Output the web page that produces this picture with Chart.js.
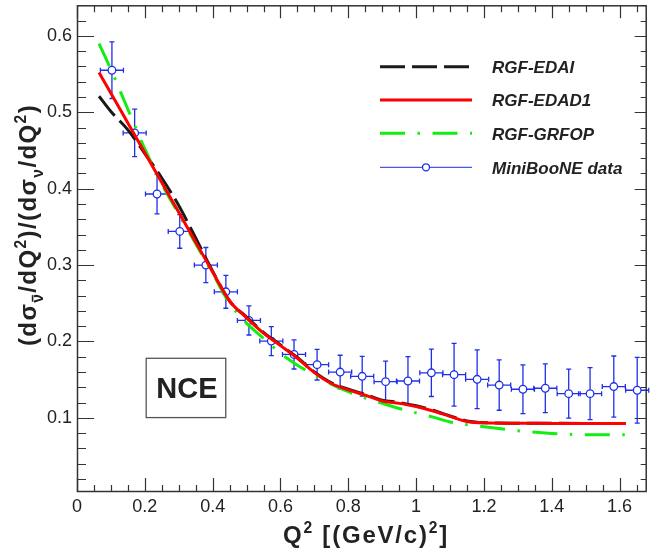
<!DOCTYPE html>
<html>
<head>
<meta charset="utf-8">
<script src="https://cdn.jsdelivr.net/npm/chart.js@4.4.1/dist/chart.umd.min.js"></script>
<style>
  html, body { margin: 0; padding: 0; background: #fff; }
  canvas { display: block; }
</style>
</head>
<body>
<canvas id="nceChart" width="652" height="556"></canvas>
<script>
// MiniBooNE NCE ratio
const qsq = [0.103, 0.170, 0.236, 0.303, 0.380, 0.439, 0.507, 0.573, 0.640, 0.708, 0.776, 0.841,
             0.910, 0.976, 1.045, 1.112, 1.180, 1.245, 1.315, 1.381, 1.450, 1.513, 1.583, 1.652];
const ratio = [0.555, 0.473, 0.393, 0.344, 0.300, 0.265, 0.2275, 0.2005, 0.183, 0.1696, 0.160, 0.1544,
               0.1474, 0.1483, 0.159, 0.1565, 0.1505, 0.143, 0.1375, 0.1388, 0.1317, 0.1317, 0.141, 0.1362];
const ratioErr = [0.037, 0.031, 0.026, 0.022, 0.023, 0.0215, 0.019, 0.019, 0.019, 0.020, 0.022, 0.026,
                  0.027, 0.032, 0.031, 0.041, 0.0385, 0.033, 0.032, 0.032, 0.032, 0.034, 0.040, 0.043];
const qsqErr = [0.034, 0.034, 0.034, 0.034, 0.034, 0.034, 0.034, 0.034, 0.034, 0.034, 0.034, 0.034,
                0.034, 0.034, 0.034, 0.034, 0.034, 0.034, 0.034, 0.034, 0.034, 0.034, 0.034, 0.034];

// model curves
const curveQ = [0.065, 0.10, 0.15, 0.20, 0.25, 0.30, 0.35, 0.40, 0.45, 0.50, 0.55, 0.60, 0.65, 0.70,
                0.75, 0.80, 0.85, 0.90, 0.95, 1.00, 1.05, 1.10, 1.15, 1.20, 1.30, 1.40, 1.50, 1.618];
const edai = [0.521, 0.501, 0.477, 0.446, 0.414, 0.378, 0.3354, 0.292, 0.253, 0.232, 0.212, 0.1955, 0.179, 0.160,
              0.1458, 0.1375, 0.1307, 0.1232, 0.1202, 0.1158, 0.110, 0.1025, 0.096, 0.0937, 0.0931, 0.0929, 0.0927, 0.0926];
const edad1 = [0.552, 0.525, 0.486, 0.447, 0.408, 0.369, 0.330, 0.291, 0.253, 0.231, 0.211, 0.1946, 0.178, 0.1593,
               0.145, 0.1366, 0.1297, 0.1222, 0.119, 0.1148, 0.109, 0.102, 0.0953, 0.0935, 0.0930, 0.0928, 0.0926, 0.0925];
const grfop = [0.590, 0.556, 0.504, 0.452, 0.406, 0.367, 0.328, 0.289, 0.250, 0.224, 0.204, 0.1845, 0.169, 0.156,
               0.144, 0.1343, 0.126, 0.119, 0.1123, 0.1065, 0.101, 0.0947, 0.091, 0.0885, 0.0832, 0.0797, 0.078, 0.078];

const xTicks = [0, 0.2, 0.4, 0.6, 0.8, 1.0, 1.2, 1.4, 1.6];
const yTicks = [0.1, 0.2, 0.3, 0.4, 0.5, 0.6];

const BLUE = '#1f2fe8';
const TXT = '#222';

const pts = (xs, ys) => xs.map((x, i) => ({ x: x, y: ys[i] }));

// draws bold text with sub/superscripts, centred on cx
function drawRich(ctx, parts, cx, by, size, spacing) {
  let w = 0;
  const items = [];
  parts.forEach(p => {
    const s = p.k === 'n' ? size : size * 0.65;
    ctx.font = 'bold ' + s + 'px "Liberation Sans", Arial, sans-serif';
    ctx.letterSpacing = spacing + 'px';
    const tw = ctx.measureText(p.t).width;
    items.push({ t: p.t, k: p.k, bar: p.bar, s: s, x: w, w: tw });
    w += tw;
  });
  const x0 = cx - w / 2;
  ctx.fillStyle = TXT;
  ctx.textBaseline = 'alphabetic';
  ctx.textAlign = 'left';
  items.forEach(it => {
    ctx.font = 'bold ' + it.s + 'px "Liberation Sans", Arial, sans-serif';
    ctx.letterSpacing = spacing + 'px';
    const dy = it.k === 'sub' ? size * 0.30 : it.k === 'sup' ? -size * 0.42 : 0;
    ctx.fillText(it.t, x0 + it.x, by + dy);
    if (it.bar) {
      ctx.strokeStyle = TXT;
      ctx.lineWidth = 1.6;
      ctx.beginPath();
      ctx.moveTo(x0 + it.x + 1, by + dy - it.s * 0.68);
      ctx.lineTo(x0 + it.x + it.w - spacing - 1, by + dy - it.s * 0.68);
      ctx.stroke();
    }
  });
  ctx.letterSpacing = '0px';
}

const errorBars = {
  id: 'errorBars',
  beforeDatasetsDraw(chart) {
    const { ctx, scales: { x, y } } = chart;
    const r = 3.8;
    const cap = 2.5;
    ctx.save();
    ctx.strokeStyle = BLUE;
    ctx.lineWidth = 1.3;
    qsq.forEach((q, i) => {
      const px = x.getPixelForValue(q);
      const py = y.getPixelForValue(ratio[i]);
      const top = y.getPixelForValue(ratio[i] + ratioErr[i]);
      const bot = y.getPixelForValue(ratio[i] - ratioErr[i]);
      const lft = x.getPixelForValue(q - qsqErr[i]);
      const rgt = x.getPixelForValue(q + qsqErr[i]);
      ctx.beginPath();
      ctx.moveTo(px, top); ctx.lineTo(px, py - r);
      ctx.moveTo(px, py + r); ctx.lineTo(px, bot);
      ctx.moveTo(lft, py); ctx.lineTo(px - r, py);
      ctx.moveTo(px + r, py); ctx.lineTo(rgt, py);
      ctx.moveTo(px - cap, top); ctx.lineTo(px + cap, top);
      ctx.moveTo(px - cap, bot); ctx.lineTo(px + cap, bot);
      ctx.moveTo(lft, py - cap); ctx.lineTo(lft, py + cap);
      ctx.moveTo(rgt, py - cap); ctx.lineTo(rgt, py + cap);
      ctx.stroke();
    });
    ctx.restore();
  }
};

const frameAndText = {
  id: 'frameAndText',
  afterDraw(chart) {
    const { ctx, chartArea: a, scales: { x, y } } = chart;
    ctx.save();

    // frame with inward ticks on all four sides
    ctx.strokeStyle = '#333';
    ctx.lineWidth = 1.5;
    ctx.strokeRect(a.left + 0.5, a.top + 0.5, a.right - a.left - 1, a.bottom - a.top - 1);
    ctx.lineWidth = 1.2;
    ctx.beginPath();
    for (let v = 0; v <= x.max + 1e-9; v += 0.05) {
      const px = Math.round(x.getPixelForValue(v)) + 0.5;
      const major = Math.abs(v / 0.2 - Math.round(v / 0.2)) < 1e-6;
      ctx.moveTo(px, a.bottom); ctx.lineTo(px, a.bottom - (major ? 14 : 7));
      ctx.moveTo(px, a.top); ctx.lineTo(px, a.top + (major ? 13 : 7));
    }
    for (let v = 0.02; v <= y.max + 1e-9; v += 0.02) {
      const py = Math.round(y.getPixelForValue(v)) + 0.5;
      const major = Math.abs(v / 0.1 - Math.round(v / 0.1)) < 1e-6;
      ctx.moveTo(a.left, py); ctx.lineTo(a.left + (major ? 17 : 9), py);
      ctx.moveTo(a.right, py); ctx.lineTo(a.right - (major ? 12 : 6), py);
    }
    ctx.stroke();

    // NCE label box
    const bx0 = x.getPixelForValue(0.204), bx1 = x.getPixelForValue(0.4387);
    const by0 = y.getPixelForValue(0.178), by1 = y.getPixelForValue(0.1004);
    ctx.strokeStyle = '#555';
    ctx.lineWidth = 1.3;
    ctx.strokeRect(bx0, by0, bx1 - bx0, by1 - by0);
    ctx.fillStyle = TXT;
    ctx.font = 'bold 29px "Liberation Sans", Arial, sans-serif';
    ctx.textAlign = 'center';
    ctx.textBaseline = 'alphabetic';
    ctx.fillText('NCE', (bx0 + bx1) / 2 + 1, (by0 + by1) / 2 + 10.5);

    // legend
    const rows = [
      { ds: 2, y: 66.7 },
      { ds: 0, y: 100 },
      { ds: 1, y: 133.3 },
      { ds: 3, y: 167.3 }
    ];
    const lx0 = 380, lx1 = 472;
    rows.forEach(row => {
      const d = chart.data.datasets[row.ds];
      ctx.save();
      if (row.ds === 3) {
        ctx.strokeStyle = BLUE;
        ctx.lineWidth = 1;
        ctx.beginPath();
        ctx.moveTo(lx0, row.y); ctx.lineTo(lx1, row.y);
        ctx.stroke();
        ctx.fillStyle = '#fff';
        ctx.lineWidth = 1.3;
        ctx.beginPath();
        ctx.arc((lx0 + lx1) / 2, row.y, 3.5, 0, Math.PI * 2);
        ctx.fill();
        ctx.stroke();
      } else {
        ctx.strokeStyle = d.borderColor;
        ctx.lineWidth = d.borderWidth;
        ctx.setLineDash(d.borderDash || []);
        ctx.beginPath();
        ctx.moveTo(lx0, row.y); ctx.lineTo(lx1, row.y);
        ctx.stroke();
      }
      ctx.restore();
      ctx.fillStyle = TXT;
      ctx.font = 'italic bold 17px "Liberation Sans", Arial, sans-serif';
      ctx.textAlign = 'left';
      ctx.fillText(d.label, 492, row.y + 6.3);
    });

    // x axis title
    drawRich(ctx, [
      { t: 'Q', k: 'n' }, { t: '2', k: 'sup' }, { t: ' [(GeV/c)', k: 'n' }, { t: '2', k: 'sup' }, { t: ']', k: 'n' }
    ], 366, 543, 24, 1.8);

    // y axis title, rotated
    ctx.save();
    ctx.translate(36, 225);
    ctx.rotate(-Math.PI / 2);
    drawRich(ctx, [
      { t: '(d\u03c3', k: 'n' }, { t: '\u03bd', k: 'sub', bar: true }, { t: '/dQ', k: 'n' }, { t: '2', k: 'sup' },
      { t: ')/(d\u03c3', k: 'n' }, { t: '\u03bd', k: 'sub' }, { t: '/dQ', k: 'n' }, { t: '2', k: 'sup' }, { t: ')', k: 'n' }
    ], 0, 0, 24, 1.4);
    ctx.restore();

    ctx.restore();
  }
};

const ctx = document.getElementById('nceChart').getContext('2d');

const nceChart = new Chart(ctx, {
  type: 'scatter',
  data: {
    datasets: [{
      label: 'RGF-EDAD1',
      data: pts(curveQ, edad1),
      showLine: true,
      borderColor: '#ff0000',
      borderWidth: 3,
      pointRadius: 0,
      cubicInterpolationMode: 'monotone'
    }, {
      label: 'RGF-GRFOP',
      data: pts(curveQ, grfop),
      showLine: true,
      borderColor: '#12ee12',
      borderWidth: 3,
      borderDash: [25, 12.5, 2.5, 12.5],
      pointRadius: 0,
      cubicInterpolationMode: 'monotone'
    }, {
      label: 'RGF-EDAI',
      data: pts(curveQ, edai),
      showLine: true,
      borderColor: '#1a1a1a',
      borderWidth: 3,
      borderDash: [25, 7],
      pointRadius: 0,
      cubicInterpolationMode: 'monotone'
    }, {
      label: 'MiniBooNE data',
      data: pts(qsq, ratio),
      showLine: false,
      pointRadius: 3.8,
      pointBorderWidth: 1.3,
      pointBorderColor: BLUE,
      pointBackgroundColor: '#fff'
    }]
  },
  options: {
    responsive: false,
    animation: false,
    devicePixelRatio: 1,
    layout: { padding: { top: 3, right: 1, left: 0, bottom: 0 } },
    plugins: {
      legend: { display: false },
      tooltip: { enabled: false }
    },
    scales: {
      x: {
        type: 'linear',
        min: 0,
        max: 1.68,
        afterBuildTicks: s => { s.ticks = xTicks.map(v => ({ value: v })); },
        afterFit: s => { s.height = 64; s.paddingLeft = 0; s.paddingRight = 0; },
        grid: { display: false, drawTicks: false },
        border: { display: false },
        ticks: {
          color: TXT,
          padding: 4,
          maxRotation: 0,
          font: { family: '"Liberation Sans", Arial, sans-serif', size: 18 },
          callback: v => String(+v.toFixed(1))
        }
      },
      y: {
        type: 'linear',
        min: 0.003,
        max: 0.64,
        afterBuildTicks: s => { s.ticks = yTicks.map(v => ({ value: v })); },
        afterFit: s => { s.width = 77; s.paddingTop = 0; s.paddingBottom = 0; },
        grid: { display: false, drawTicks: false },
        border: { display: false },
        ticks: {
          color: TXT,
          padding: 5,
          font: { family: '"Liberation Sans", Arial, sans-serif', size: 18 },
          callback: v => String(+v.toFixed(1))
        }
      }
    }
  },
  plugins: [errorBars, frameAndText]
});
</script>
</body>
</html>
